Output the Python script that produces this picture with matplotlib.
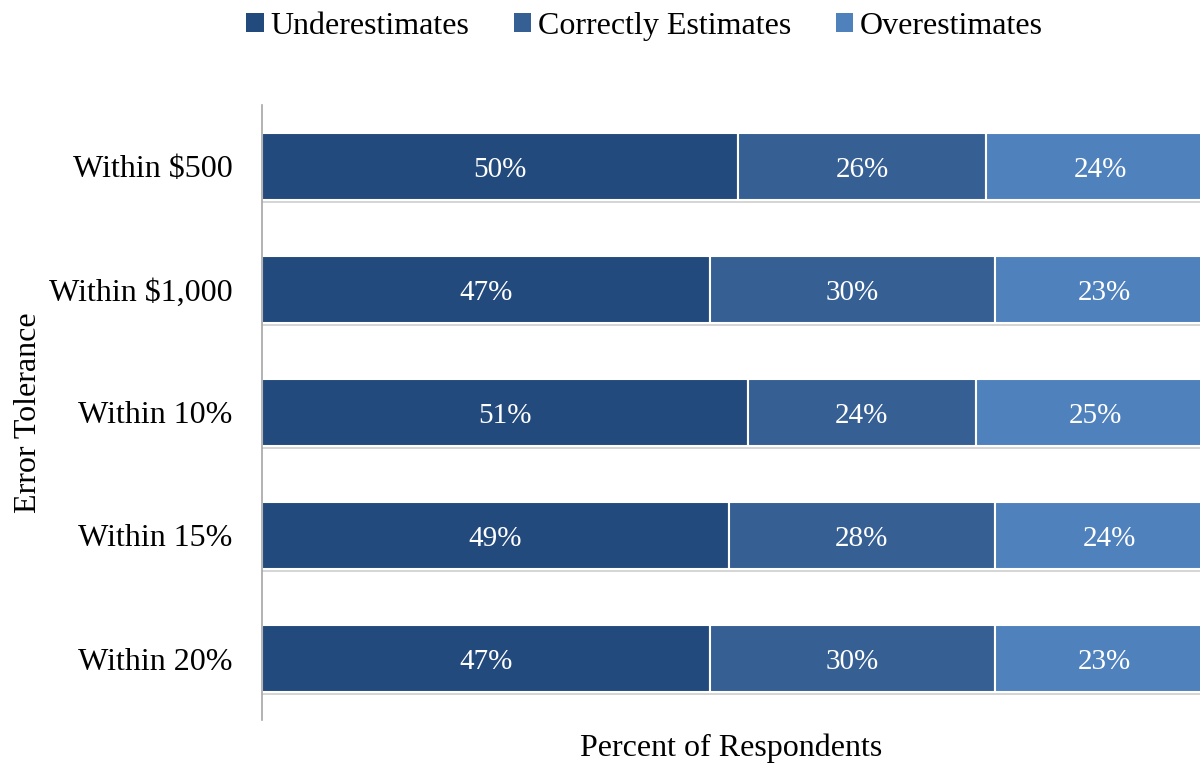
import matplotlib.pyplot as plt
import matplotlib.patheffects as pe
from matplotlib.patches import Patch
import numpy as np

# survey results by error tolerance
categories = ["Within $500", "Within $1,000", "Within 10%", "Within 15%", "Within 20%"]
under = [50, 47, 51, 49, 47]
correct = [26, 30, 24, 28, 30]
over = [24, 23, 25, 24, 23]

series = ["Underestimates", "Correctly Estimates", "Overestimates"]
colors = ["#224A7C", "#365F93", "#4F81BD"]

plt.rcParams['font.family'] = ['Liberation Serif', 'DejaVu Serif']

fig = plt.figure(figsize=(12, 7.65), dpi=100)
ax = fig.add_axes([0.2183, 0.0588, 0.7817, 0.804])

y = np.arange(len(categories))
left = np.zeros(len(categories))
shadow = [pe.SimplePatchShadow(offset=(0, -2), shadow_rgbFace="#888888", alpha=0.35), pe.Normal()]

for name, vals, col in zip(series, [under, correct, over], colors):
    vals = np.array(vals)
    bars = ax.barh(y, vals, left=left, height=0.545, color=col, edgecolor="white",
                   linewidth=1.5)
    for b in bars:
        b.set_path_effects(shadow)
    for yi, l, v in zip(y, left, vals):
        ax.text(l + v / 2, yi + 0.025, f"{v}%", ha="center", va="center",
                color="white", fontsize=21)
    left += vals

ax.set_xlim(0, 98.5)
ax.set_ylim(4.5, -0.5)
ax.set_yticks(y)
ax.set_yticklabels(categories, fontsize=23)
ax.tick_params(axis="y", length=0, pad=21)
ax.set_xticks([])

for s in ["top", "right", "bottom"]:
    ax.spines[s].set_visible(False)
ax.spines["left"].set_color("#A6A6A6")
ax.spines["left"].set_linewidth(1.2)

fig.text(0.609, 0.022, "Percent of Respondents", ha="center", va="center", fontsize=23)
fig.text(0.024, 0.46, "Error Tolerance", rotation=90, ha="center", va="center", fontsize=23)

handles = [Patch(facecolor=c, edgecolor="none") for c in colors]
fig.legend(handles, series, loc="center", bbox_to_anchor=(0.537, 0.966), ncol=3,
           frameon=False, fontsize=23, handlelength=0.55, handleheight=0.55,
           handletextpad=0.2, columnspacing=1.4)

plt.savefig("out.png", dpi=100)
